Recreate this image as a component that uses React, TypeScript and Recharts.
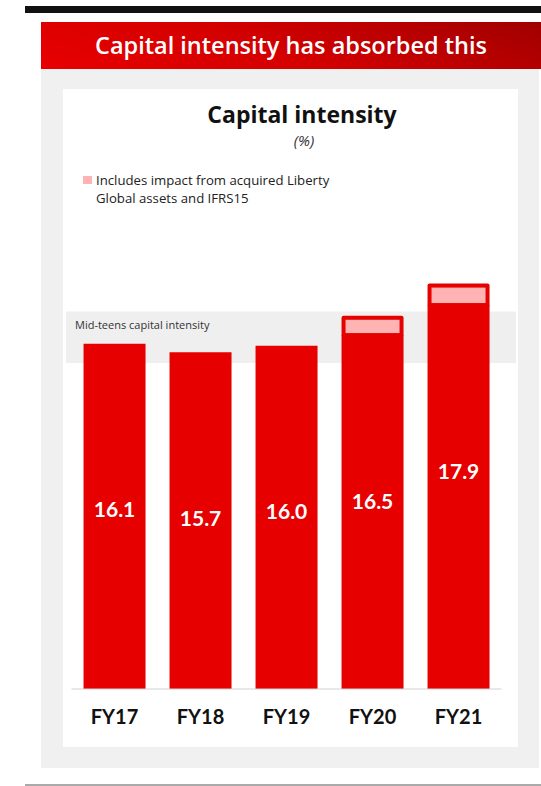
import React from 'react';
import { BarChart, Bar, XAxis, YAxis, ReferenceArea, LabelList } from 'recharts';

const categories = ['FY17', 'FY18', 'FY19', 'FY20', 'FY21'];
const baseValues = [16.1, 15.7, 16.0, 16.5, 17.9];
const libertyImpact = [0, 0, 0, 0.9, 1.0];
const midTeensRange = [15.2, 17.6];

const data = categories.map((c, i) => ({ name: c, base: baseValues[i], extra: libertyImpact[i] }));

const RED = '#e60000';
const PINK = '#ffb3b3';
const FONT = '"Open Sans", Lato, sans-serif';
const TICK_FONT = 'Lato, "Open Sans", sans-serif';

const ExtraShape = (props: any) => {
  const { x, y, width, height } = props;
  if (!height || height <= 0) return null;
  const b = 4;
  return (
    <g>
      <rect x={x} y={y} width={width} height={height + 2} rx={2} fill={RED} />
      <rect x={x + b} y={y + b} width={width - 2 * b} height={height - b - 2} fill={PINK} />
    </g>
  );
};

const BandShape = (props: any) => {
  const { x, y, width, height } = props;
  return (
    <g>
      <rect x={x - 5.5} y={y} width={width + 20} height={height} fill="#efefef" />
      <text x={x + 3.5} y={y + 13} fontFamily={FONT} fontSize={11} fill="#333" dominantBaseline="central">
        Mid-teens capital intensity
      </text>
    </g>
  );
};

const ValueLabel = (props: any) => {
  const { x, y, width, value } = props;
  return (
    <text
      x={x + width / 2}
      y={y + 165}
      textAnchor="middle"
      dominantBaseline="central"
      fill="#fff"
      fontFamily={TICK_FONT}
      fontWeight={700}
      fontSize={21}
    >
      {Number(value).toFixed(1)}
    </text>
  );
};

export default function App() {
  return (
    <div style={{ position: 'absolute', left: 0, top: 0, width: 541, height: 786, background: '#fff', fontFamily: FONT, overflow: 'hidden' }}>
      <div style={{ position: 'absolute', left: 25, top: 6, width: 516, height: 7, background: '#111' }} />
      <div
        style={{
          position: 'absolute',
          left: 41,
          top: 22,
          width: 500,
          height: 47,
          background: 'linear-gradient(20deg, #e80000 0%, #d40000 45%, #a00000 100%)',
          color: '#fff',
          fontWeight: 600,
          fontSize: 23.5,
          lineHeight: '47px',
          textAlign: 'center',
          whiteSpace: 'nowrap',
        }}
      >
        Capital intensity has absorbed this
      </div>
      <div style={{ position: 'absolute', left: 41, top: 69, width: 498, height: 699, background: '#f0f0f0' }} />
      <div style={{ position: 'absolute', left: 63, top: 89, width: 455, height: 658, background: '#fff' }} />
      <div style={{ position: 'absolute', left: 25, top: 784, width: 516, height: 2, background: '#aaa' }} />

      <div style={{ position: 'absolute', left: 302, top: 99, transform: 'translateX(-50%)', fontWeight: 700, fontSize: 23, color: '#111', whiteSpace: 'nowrap', lineHeight: '30px' }}>
        Capital intensity
      </div>
      <div style={{ position: 'absolute', left: 304, top: 130, transform: 'translateX(-50%)', fontStyle: 'italic', fontSize: 15, color: '#333', lineHeight: '20px' }}>
        (%)
      </div>
      <div style={{ position: 'absolute', left: 83, top: 176, width: 9, height: 8, background: PINK }} />
      <div style={{ position: 'absolute', left: 96, top: 171, fontSize: 13.2, color: '#222', lineHeight: '18px', whiteSpace: 'nowrap' }}>
        Includes impact from acquired Liberty
        <br />
        Global assets and IFRS15
      </div>

      <div style={{ position: 'absolute', left: 0, top: 0 }}>
        <BarChart
          width={541}
          height={786}
          data={data}
          margin={{ top: 260, right: 39.5, bottom: 67, left: 71.5 }}
          barCategoryGap="14%"
        >
          <YAxis hide domain={[0, 20]} />
          <ReferenceArea
            y1={midTeensRange[0]}
            y2={midTeensRange[1]}
            ifOverflow="visible"
            shape={<BandShape />}
          />
          <XAxis
            dataKey="name"
            height={30}
            axisLine={{ stroke: '#d0d0d0', strokeWidth: 1 }}
            tickLine={false}
            tickMargin={15}
            tick={{ fill: '#111', fontFamily: TICK_FONT, fontWeight: 700, fontSize: 20 }}
          />
          <Bar dataKey="base" stackId="a" fill={RED} isAnimationActive={false}>
            <LabelList dataKey="base" content={<ValueLabel />} />
          </Bar>
          <Bar dataKey="extra" stackId="a" fill={RED} shape={<ExtraShape />} isAnimationActive={false} />
        </BarChart>
      </div>
    </div>
  );
}
